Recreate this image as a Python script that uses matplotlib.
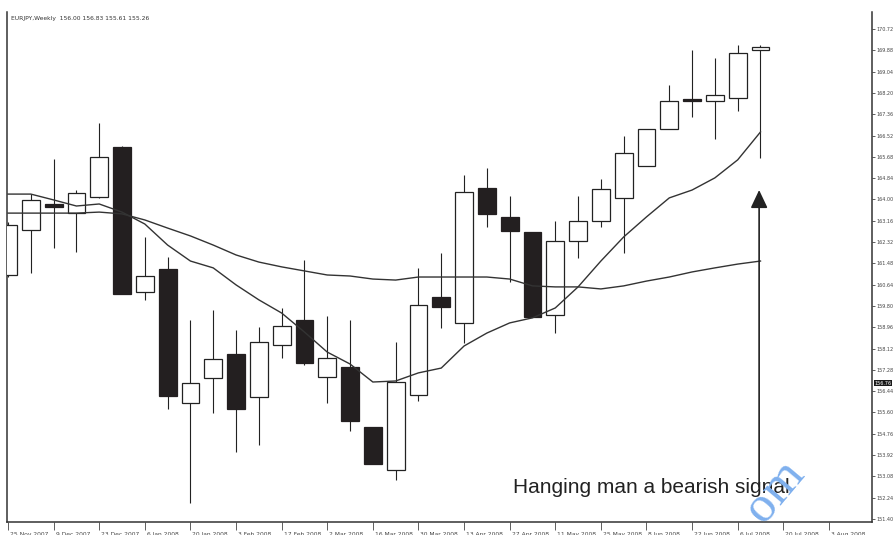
import matplotlib
matplotlib.use("Agg")
import matplotlib.pyplot as plt
import matplotlib.transforms as mtransforms
import numpy as np

# weekly EURJPY candles, one per week starting 25 Nov 2007
opens = [161.02, 162.80, 163.82, 163.46, 164.10, 166.07, 160.35, 161.26, 155.97, 156.96,
         157.91, 156.21, 158.26, 159.25, 157.00, 157.39, 155.03, 153.33, 156.29, 160.15,
         159.13, 164.45, 163.31, 162.72, 159.44, 162.36, 163.15, 164.06, 165.32, 166.78,
         167.96, 167.88, 168.00, 169.89]
highs = [163.11, 164.21, 165.59, 164.37, 167.01, 166.11, 162.52, 161.73, 159.25, 159.64,
         158.85, 158.97, 159.72, 161.61, 159.40, 159.25, 155.03, 158.38, 161.30, 161.89,
         164.96, 165.24, 164.14, 162.72, 163.15, 164.14, 164.81, 166.50, 166.78, 168.51,
         169.89, 169.58, 170.09, 170.09]
lows = [160.94, 161.10, 162.09, 161.93, 164.06, 160.27, 160.03, 155.74, 152.03, 155.58,
        154.04, 154.32, 157.75, 157.47, 155.97, 154.87, 153.57, 152.94, 156.05, 158.93,
        158.34, 162.91, 160.74, 159.36, 158.73, 161.69, 162.91, 161.89, 165.32, 166.78,
        167.25, 166.38, 167.49, 165.63]
closes = [162.99, 163.98, 163.70, 164.25, 165.67, 160.27, 160.98, 156.25, 156.76, 157.71,
          155.74, 158.38, 159.01, 157.55, 157.75, 155.26, 153.57, 156.80, 159.84, 159.76,
          164.29, 163.43, 162.76, 159.36, 162.36, 163.15, 164.42, 165.83, 166.78, 167.88,
          167.88, 168.12, 169.77, 170.01]

# moving averages as plotted on the chart
ma_fast = [164.21, 164.21, 163.98, 163.74, 163.82, 163.50, 163.03, 162.20, 161.57, 161.30,
           160.63, 160.04, 159.52, 158.77, 157.98, 157.51, 156.80, 156.84, 157.16, 157.35,
           158.22, 158.73, 159.13, 159.33, 159.72, 160.55, 161.57, 162.52, 163.31, 164.06,
           164.37, 164.85, 165.56, 166.66]
ma_slow = [163.46, 163.46, 163.46, 163.46, 163.50, 163.43, 163.19, 162.87, 162.56, 162.20,
           161.81, 161.53, 161.34, 161.18, 161.02, 160.98, 160.86, 160.82, 160.94, 160.94,
           160.94, 160.94, 160.86, 160.59, 160.55, 160.55, 160.47, 160.59, 160.78, 160.94,
           161.14, 161.30, 161.45, 161.57]

date_labels = ["25 Nov 2007", "9 Dec 2007", "23 Dec 2007", "6 Jan 2008", "20 Jan 2008",
               "3 Feb 2008", "17 Feb 2008", "2 Mar 2008", "16 Mar 2008", "30 Mar 2008",
               "13 Apr 2008", "27 Apr 2008", "11 May 2008", "25 May 2008", "8 Jun 2008",
               "22 Jun 2008", "6 Jul 2008", "20 Jul 2008", "3 Aug 2008"]

header = "EURJPY,Weekly  156.00 156.83 155.61 155.26"
current_price = 156.76
signal_index = 33
signal_text = "Hanging man a bearish signal"

fig = plt.figure(figsize=(8.93, 5.35), dpi=100)
ax = fig.add_axes([7/893, 13/535, 865/893, 510/535])

x = np.arange(len(opens))
o = np.array(opens)
c = np.array(closes)
up = c >= o

# wicks first, bodies over them
ax.vlines(x, lows, highs, color="#222222", lw=0.8, zorder=2)
body_lo = np.minimum(o, c)
body_h = np.maximum(np.abs(c - o), 0.04)
ax.bar(x[up], body_h[up], bottom=body_lo[up], width=0.78, color="white",
       edgecolor="#222222", linewidth=0.9, zorder=3)
ax.bar(x[~up], body_h[~up], bottom=body_lo[~up], width=0.78, color="#231f20",
       edgecolor="#231f20", linewidth=0.9, zorder=3)

ax.plot(x, ma_fast, color="#333333", lw=1.0, zorder=4)
ax.plot(x, ma_slow, color="#333333", lw=1.0, zorder=4)

ax.set_xlim(-0.044, 37.89)
ax.set_ylim(151.28, 171.39)

# price scale on the right
ax.yaxis.tick_right()
yt = 151.40 + 0.84 * np.arange(24)
ax.set_yticks(yt)
ax.set_yticklabels([f"{v:.2f}" for v in yt])
ax.tick_params(axis="y", direction="out", length=2.5, width=0.6, labelsize=3.5,
               pad=1, colors="#444444")

ax.set_xticks(np.arange(0, 2 * len(date_labels), 2))
ax.set_xticklabels(date_labels, ha="left")
ax.tick_params(axis="x", direction="out", length=6, width=0.6, labelsize=4.3,
               pad=1, colors="#444444")
for lab in ax.get_xticklabels():
    lab.set_transform(lab.get_transform() + mtransforms.ScaledTranslation(2/100, 0, fig.dpi_scale_trans))

for side in ["left", "right", "bottom"]:
    ax.spines[side].set_color("#333333")
    ax.spines[side].set_linewidth(1.1)
ax.spines["top"].set_visible(False)

# current price marker on the scale
trans = mtransforms.blended_transform_factory(ax.transAxes, ax.transData)
ax.text(1.003, current_price, f"{current_price:.2f}", transform=trans, ha="left",
        va="center", fontsize=3.5, color="white",
        bbox=dict(boxstyle="square,pad=0.15", fc="#1a1a1a", ec="none"), clip_on=False)

ax.text(0.005, 0.988, header, transform=ax.transAxes, ha="left", va="center",
        fontsize=4.3, color="#333333")

# arrow pointing at the hanging man
ax.annotate("", xy=(signal_index - 0.06, 164.37), xytext=(signal_index - 0.06, 152.66),
            arrowprops=dict(arrowstyle="-|>,head_length=0.55,head_width=0.26",
                            mutation_scale=20, color="#222222", lw=1.2,
                            shrinkA=0, shrinkB=0), zorder=5)
ax.text(22.15, 152.66, signal_text, ha="left", va="center", fontsize=15,
        family="Liberation Sans", color="#222222", zorder=5)

fig.text(0.868, 0.082, "om", rotation=50, ha="center", va="center", fontsize=37,
         family="Liberation Serif", color="#7fb0ee", zorder=10)

fig.savefig("out.png", dpi=100, facecolor="white")
